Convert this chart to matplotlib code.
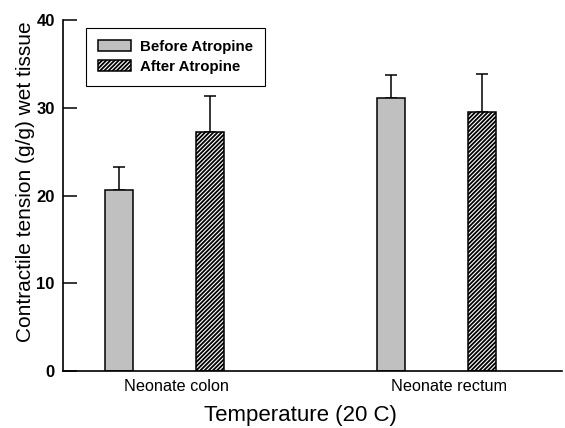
import matplotlib.pyplot as plt
import numpy as np

plt.rcParams['font.family'] = ['Liberation Sans', 'DejaVu Sans']
plt.rcParams['hatch.linewidth'] = 1.3

# data
groups = ['Neonate colon', 'Neonate rectum']
before_mean = [20.6, 31.2]
before_err = [2.7, 2.55]
after_mean = [27.3, 29.6]
after_err = [4.1, 4.3]

fig = plt.figure(figsize=(5.65, 4.28), dpi=100)
ax = fig.add_axes([0.1115, 0.1332, 0.883, 0.819])

x = np.arange(1, len(groups) + 1)
offset = 0.1667
width = 0.1026

ax.bar(x - offset, before_mean, width, color='#c0c0c0', edgecolor='black',
       linewidth=1.1, label='Before Atropine', zorder=2)
ax.bar(x + offset, after_mean, width, color='white', edgecolor='black',
       hatch='////////', linewidth=1.1, label='After Atropine', zorder=2)

# upper error bars only
ax.errorbar(x - offset, before_mean, yerr=[np.zeros(2), before_err], fmt='none',
            ecolor='black', elinewidth=1.1, capsize=4, capthick=1.1, zorder=1)
ax.errorbar(x + offset, after_mean, yerr=[np.zeros(2), after_err], fmt='none',
            ecolor='black', elinewidth=1.1, capsize=4, capthick=1.1, zorder=1)

ax.set_xlim(0.628, 2.46)
ax.set_ylim(0, 40)
ax.set_yticks([0, 10, 20, 30, 40])
ax.set_xticks(x + 0.045)
ax.set_xticklabels(groups, fontsize=11.7)

for lab in ax.get_yticklabels():
    lab.set_fontweight('bold')
    lab.set_fontsize(12)

ax.tick_params(axis='y', direction='in', length=10, width=1.1, pad=6)
ax.tick_params(axis='x', length=0, pad=6)

ax.spines['top'].set_visible(False)
ax.spines['right'].set_visible(False)
ax.spines['left'].set_linewidth(1.2)
ax.spines['bottom'].set_linewidth(1.2)

ax.set_ylabel('Contractile tension (g/g) wet tissue', fontsize=15)
ax.set_xlabel('Temperature (20 C)', fontsize=16)
ax.yaxis.set_label_coords(-0.057, 0.539)
ax.xaxis.set_label_coords(0.475, -0.097)

leg = ax.legend(loc='upper left', bbox_to_anchor=(0.046, 0.979), borderaxespad=0,
                fancybox=False, framealpha=1, edgecolor='black',
                prop={'weight': 'bold', 'size': 10.8},
                handlelength=2.2, handleheight=0.7, handletextpad=0.6,
                borderpad=0.8, labelspacing=0.4)
leg.get_frame().set_linewidth(0.8)

fig.savefig('out.png', dpi=100)
